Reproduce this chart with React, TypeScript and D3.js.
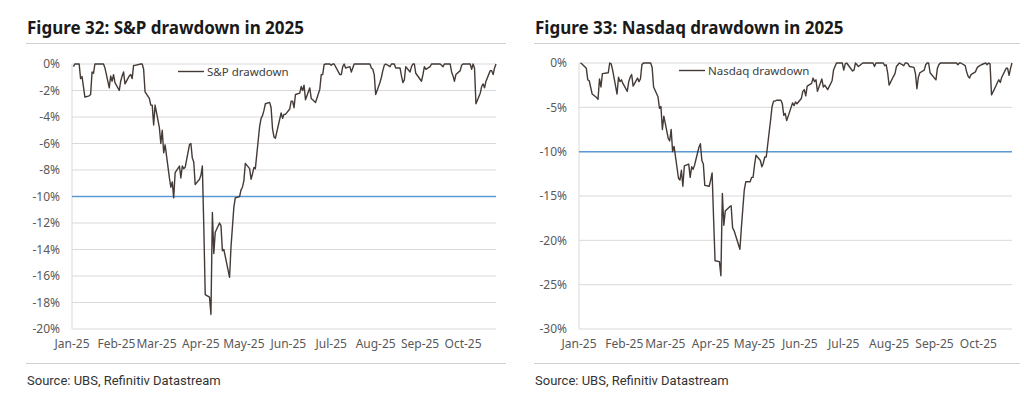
import * as d3 from "d3";

// Daily drawdown from the 2025 high, in %, read off the two UBS charts
const SP_DRAWDOWN: [string, number][] = [
  ["01-02", -0.2], ["01-03", 0], ["01-06", 0], ["01-07", -1.1], ["01-08", -0.95], ["01-10", -2.5], ["01-13", -2.4], ["01-14", -2.3], ["01-15", -0.6], ["01-16", -0.7], ["01-17", 0], ["01-21", 0], ["01-22", 0], ["01-23", 0], ["01-24", -0.3], ["01-27", -1.8], ["01-28", -0.9], ["01-29", -1.3], ["01-30", -0.8], ["01-31", -1.4],
  ["02-03", -2.0], ["02-04", -1.3], ["02-05", -0.9], ["02-06", -0.6], ["02-07", -1.5], ["02-10", -0.9], ["02-11", -0.8], ["02-12", -1.1], ["02-13", -0.1], ["02-14", -0.1], ["02-18", 0], ["02-19", 0], ["02-20", -0.4], ["02-21", -2.1], ["02-24", -2.6], ["02-25", -3.1], ["02-26", -3.1], ["02-27", -4.6], ["02-28", -3.1],
  ["03-03", -4.8], ["03-04", -6.0], ["03-05", -5.0], ["03-06", -6.7], ["03-07", -6.1], ["03-10", -8.6], ["03-11", -9.3], ["03-12", -8.9], ["03-13", -10.1], ["03-14", -8.2], ["03-17", -7.7], ["03-18", -8.6], ["03-19", -7.7], ["03-20", -7.9], ["03-21", -7.8], ["03-24", -6.1], ["03-25", -6.0], ["03-26", -7.1], ["03-27", -7.4], ["03-28", -9.1], ["03-31", -8.7],
  ["04-01", -8.4], ["04-02", -7.7], ["04-03", -12.2], ["04-04", -17.4], ["04-07", -17.6], ["04-08", -18.9], ["04-09", -11.2], ["04-10", -14.3], ["04-11", -12.7], ["04-14", -12.0], ["04-15", -12.2], ["04-16", -14.1], ["04-17", -14.0], ["04-21", -16.1], ["04-22", -13.8], ["04-23", -12.3], ["04-24", -10.8], ["04-25", -10.1], ["04-28", -10.0], ["04-29", -9.5], ["04-30", -9.3],
  ["05-01", -8.8], ["05-02", -7.5], ["05-05", -7.9], ["05-06", -8.7], ["05-07", -8.3], ["05-08", -7.8], ["05-09", -7.9], ["05-12", -4.7], ["05-13", -4.1], ["05-14", -3.9], ["05-15", -3.5], ["05-16", -3.0], ["05-19", -2.9], ["05-20", -3.3], ["05-21", -4.9], ["05-22", -5.5], ["05-23", -5.6], ["05-27", -3.7], ["05-28", -4.1], ["05-29", -3.8], ["05-30", -3.8],
  ["06-02", -3.4], ["06-03", -2.8], ["06-04", -2.8], ["06-05", -3.3], ["06-06", -2.3], ["06-09", -2.2], ["06-10", -1.7], ["06-11", -2.0], ["06-12", -1.6], ["06-13", -2.7], ["06-16", -1.8], ["06-17", -2.6], ["06-18", -2.7], ["06-20", -2.9], ["06-23", -1.9], ["06-24", -0.8], ["06-25", -0.8], ["06-26", -0.05], ["06-27", 0], ["06-30", 0],
  ["07-01", -0.1], ["07-02", 0], ["07-03", 0], ["07-07", -0.8], ["07-08", -0.8], ["07-09", -0.2], ["07-10", 0], ["07-11", -0.3], ["07-14", -0.2], ["07-15", -0.6], ["07-16", -0.3], ["07-17", 0], ["07-18", 0], ["07-21", 0], ["07-22", 0], ["07-23", 0], ["07-24", 0], ["07-25", 0], ["07-28", 0], ["07-29", -0.3], ["07-30", -0.4], ["07-31", -0.8],
  ["08-01", -2.3], ["08-04", -1.4], ["08-05", -1.0], ["08-06", -0.5], ["08-07", -0.1], ["08-08", 0], ["08-11", -0.2], ["08-12", 0], ["08-13", 0], ["08-14", 0], ["08-15", -0.3], ["08-18", -0.3], ["08-19", -0.9], ["08-20", -1.4], ["08-21", -1.2], ["08-22", -0.2], ["08-25", -0.6], ["08-26", -0.2], ["08-27", 0], ["08-28", 0], ["08-29", -0.7],
  ["09-02", -1.3], ["09-03", -0.8], ["09-04", -0.2], ["09-05", -0.4], ["09-08", -0.2], ["09-09", 0], ["09-10", 0], ["09-11", 0], ["09-12", 0], ["09-15", 0], ["09-16", -0.1], ["09-17", -0.2], ["09-18", 0], ["09-19", 0], ["09-22", 0], ["09-23", -0.6], ["09-24", -0.9], ["09-25", -1.3], ["09-26", -0.8], ["09-29", -0.5], ["09-30", -0.1],
  ["10-01", 0], ["10-02", 0], ["10-03", 0], ["10-06", 0], ["10-07", -0.4], ["10-08", 0], ["10-09", -0.3], ["10-10", -3.0], ["10-13", -2.2], ["10-14", -1.7], ["10-15", -1.5], ["10-16", -1.8], ["10-17", -1.3], ["10-20", -0.5], ["10-21", -0.5], ["10-22", -0.8], ["10-23", -0.3], ["10-24", 0],
];

const NASDAQ_DRAWDOWN: [string, number][] = [
  ["01-02", 0], ["01-03", -0.1], ["01-06", -0.6], ["01-07", -1.9], ["01-08", -2.0], ["01-10", -3.5], ["01-13", -3.9], ["01-14", -4.1], ["01-15", -1.8], ["01-16", -2.7], ["01-17", -1.2], ["01-21", -1.1], ["01-22", 0], ["01-23", -0.1], ["01-24", -0.8], ["01-27", -3.5], ["01-28", -1.6], ["01-29", -2.1], ["01-30", -1.9], ["01-31", -2.3],
  ["02-03", -3.2], ["02-04", -2.1], ["02-05", -1.6], ["02-06", -1.3], ["02-07", -2.6], ["02-10", -1.7], ["02-11", -2.1], ["02-12", -1.8], ["02-13", -0.2], ["02-14", 0], ["02-18", 0], ["02-19", 0], ["02-20", -0.5], ["02-21", -2.7], ["02-24", -3.8], ["02-25", -5.1], ["02-26", -4.9], ["02-27", -7.5], ["02-28", -6.0],
  ["03-03", -8.5], ["03-04", -8.8], ["03-05", -7.5], ["03-06", -10.0], ["03-07", -9.4], ["03-10", -13.0], ["03-11", -13.2], ["03-12", -12.1], ["03-13", -13.9], ["03-14", -11.6], ["03-17", -11.4], ["03-18", -12.9], ["03-19", -11.7], ["03-20", -12.0], ["03-21", -11.5], ["03-24", -9.5], ["03-25", -9.1], ["03-26", -11.0], ["03-27", -11.4], ["03-28", -13.8], ["03-31", -13.9],
  ["04-01", -13.2], ["04-02", -12.4], ["04-03", -17.5], ["04-04", -22.3], ["04-07", -22.4], ["04-08", -24.0], ["04-09", -14.7], ["04-10", -18.3], ["04-11", -16.7], ["04-14", -16.2], ["04-15", -16.1], ["04-16", -18.6], ["04-17", -18.9], ["04-21", -21.0], ["04-22", -18.6], ["04-23", -16.4], ["04-24", -14.3], ["04-25", -13.4], ["04-28", -13.4], ["04-29", -12.9], ["04-30", -12.9],
  ["05-01", -11.5], ["05-02", -10.4], ["05-05", -11.0], ["05-06", -11.7], ["05-07", -11.3], ["05-08", -10.6], ["05-09", -10.6], ["05-12", -6.4], ["05-13", -4.9], ["05-14", -4.3], ["05-15", -4.3], ["05-16", -4.2], ["05-19", -4.2], ["05-20", -4.6], ["05-21", -5.9], ["05-22", -5.7], ["05-23", -6.5], ["05-27", -4.5], ["05-28", -4.8], ["05-29", -4.4], ["05-30", -4.6],
  ["06-02", -4.0], ["06-03", -3.2], ["06-04", -3.0], ["06-05", -3.7], ["06-06", -2.6], ["06-09", -2.3], ["06-10", -1.7], ["06-11", -2.1], ["06-12", -1.9], ["06-13", -3.2], ["06-16", -1.8], ["06-17", -2.7], ["06-18", -2.5], ["06-20", -3.0], ["06-23", -2.0], ["06-24", -0.8], ["06-25", -0.4], ["06-26", 0], ["06-27", 0], ["06-30", 0],
  ["07-01", -0.8], ["07-02", -0.1], ["07-03", 0], ["07-07", -0.9], ["07-08", -0.8], ["07-09", 0], ["07-10", -0.2], ["07-11", -0.4], ["07-14", 0], ["07-15", 0], ["07-16", 0], ["07-17", 0], ["07-18", 0], ["07-21", 0], ["07-22", -0.4], ["07-23", 0], ["07-24", 0], ["07-25", 0], ["07-28", 0], ["07-29", -0.3], ["07-30", -0.2], ["07-31", -1.1],
  ["08-01", -2.5], ["08-04", -1.5], ["08-05", -1.2], ["08-06", -0.4], ["08-07", -0.2], ["08-08", 0], ["08-11", -0.3], ["08-12", 0], ["08-13", 0], ["08-14", -0.1], ["08-15", -0.4], ["08-18", -0.5], ["08-19", -1.2], ["08-20", -2.9], ["08-21", -1.6], ["08-22", -1.1], ["08-25", -0.8], ["08-26", -0.2], ["08-27", 0], ["08-28", 0], ["08-29", -1.1],
  ["09-02", -1.9], ["09-03", -0.6], ["09-04", -0.2], ["09-05", 0], ["09-08", 0], ["09-09", 0], ["09-10", 0], ["09-11", 0], ["09-12", 0], ["09-15", 0], ["09-16", 0], ["09-17", -0.2], ["09-18", 0], ["09-19", 0], ["09-22", -0.3], ["09-23", -1.0], ["09-24", -1.5], ["09-25", -1.7], ["09-26", -1.3], ["09-29", -1.0], ["09-30", -0.6],
  ["10-01", -0.4], ["10-02", -0.3], ["10-03", -0.2], ["10-06", 0], ["10-07", -0.2], ["10-08", 0], ["10-09", -0.1], ["10-10", -3.6], ["10-13", -2.6], ["10-14", -2.2], ["10-15", -1.9], ["10-16", -2.2], ["10-17", -1.6], ["10-20", -0.6], ["10-21", -0.6], ["10-22", -1.4], ["10-23", -0.6], ["10-24", 0],
];

const THRESHOLD = -10;
const START_DAY = "01-01";
const END_DAY = "10-24";
const SOURCE = "Source: UBS, Refinitiv Datastream";

const FONT = "'Noto Sans', 'Open Sans', sans-serif";
const LINE_COLOR = "#443a36";
const BLUE = "#5b9bd5";
const GRID = "#d9d9d9";
const TICK_COLOR = "#595959";

const parseDay = (s: string) => d3.timeParse("%Y-%m-%d")(`2025-${s}`) as Date;
const fmtMonth = d3.timeFormat("%b-%y");

type Plot = { x0: number; x1: number; y0: number; y1: number };

type PanelProps = {
  title: string;
  label: string;
  data: [string, number][];
  yMin: number;
  yStep: number;
  textX: number;
  ruleX1: number;
  plot: Plot;
  legendX: number;
};

const Panel = ({ title, label, data, yMin, yStep, textX, ruleX1, plot, legendX }: PanelProps) => {
  const x = d3
    .scaleTime()
    .domain([parseDay(START_DAY), parseDay(END_DAY)])
    .range([plot.x0, plot.x1]);
  const y = d3.scaleLinear().domain([yMin, 0]).range([plot.y1, plot.y0]);

  const yTicks = d3.range(yMin, yStep / 2, yStep);
  const months = d3.timeMonth.range(parseDay(START_DAY), parseDay(END_DAY));

  const path = d3
    .line<[string, number]>()
    .x((d) => x(parseDay(d[0])))
    .y((d) => y(d[1]))(data);

  const legendY = plot.y0 + 7.5;

  return (
    <g>
      <text x={textX} y={34} fontFamily={FONT} fontWeight={700} fontSize={17} fill="#1a1a1a">
        {title}
      </text>
      <line x1={textX - 1} x2={ruleX1} y1={43.5} y2={43.5} stroke="#d0d0d0" />

      {yTicks.map((t) => (
        <g key={t}>
          <line x1={plot.x0} x2={plot.x1} y1={y(t)} y2={y(t)} stroke={GRID} />
          <text
            x={plot.x0 - 12}
            y={y(t)}
            dy="0.35em"
            textAnchor="end"
            fontFamily={FONT}
            fontSize={12}
            fill={TICK_COLOR}
          >
            {`${t}%`}
          </text>
        </g>
      ))}
      <line x1={plot.x0} x2={plot.x0} y1={plot.y0} y2={plot.y1} stroke={GRID} />

      {months.map((m) => (
        <text
          key={m.getTime()}
          x={x(m)}
          y={plot.y1 + 19}
          textAnchor="middle"
          fontFamily={FONT}
          fontSize={12}
          fill={TICK_COLOR}
        >
          {fmtMonth(m)}
        </text>
      ))}

      <line x1={plot.x0} x2={plot.x1} y1={y(THRESHOLD)} y2={y(THRESHOLD)} stroke={BLUE} strokeWidth={1.5} />

      <path d={path ?? ""} fill="none" stroke={LINE_COLOR} strokeWidth={1.4} strokeLinejoin="round" />

      <line x1={legendX} x2={legendX + 26} y1={legendY} y2={legendY} stroke={LINE_COLOR} strokeWidth={1.4} />
      <text x={legendX + 29} y={legendY} dy="0.35em" fontFamily={FONT} fontSize={11.5} fill="#404040">
        {label}
      </text>

      <line x1={textX - 1} x2={ruleX1} y1={363.5} y2={363.5} stroke="#d0d0d0" />
      <text
        x={textX}
        y={385}
        fontFamily="'Liberation Sans Narrow', 'Roboto', sans-serif"
        fontSize={13}
        fill="#333"
      >
        {SOURCE}
      </text>
    </g>
  );
};

export default function App() {
  return (
    <svg
      width={1024}
      height={401}
      viewBox="0 0 1024 401"
      style={{ position: "absolute", left: 0, top: 0, background: "#fff" }}
    >
      <rect width={1024} height={401} fill="#fff" />
      <Panel
        title="Figure 32: S&P drawdown in 2025"
        label="S&P drawdown"
        data={SP_DRAWDOWN}
        yMin={-20}
        yStep={2}
        textX={27}
        ruleX1={506}
        plot={{ x0: 72, x1: 496, y0: 64, y1: 329 }}
        legendX={178}
      />
      <Panel
        title="Figure 33: Nasdaq drawdown in 2025"
        label="Nasdaq drawdown"
        data={NASDAQ_DRAWDOWN}
        yMin={-30}
        yStep={5}
        textX={535}
        ruleX1={1020}
        plot={{ x0: 579, x1: 1012, y0: 63, y1: 329 }}
        legendX={679}
      />
    </svg>
  );
}
